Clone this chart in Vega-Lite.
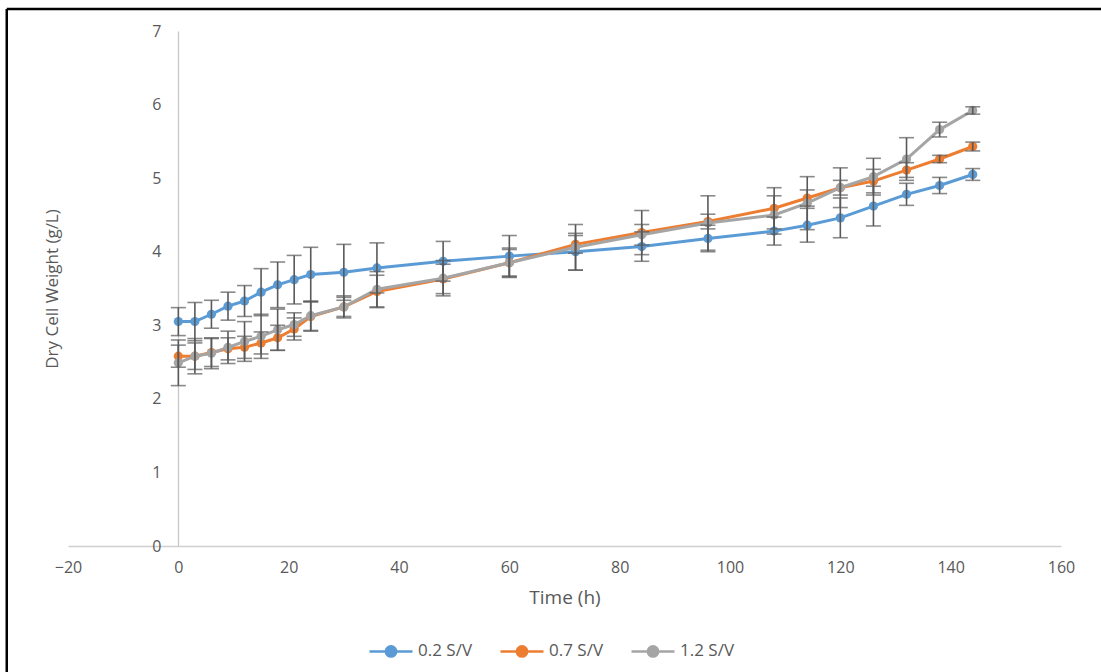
{
  "$schema": "https://vega.github.io/schema/vega-lite/v6.json",
  "width": 993,
  "height": 515,
  "autosize": "none",
  "padding": {"left": 68, "top": 31, "right": 40, "bottom": 126},
  "background": "white",
  "config": {
    "view": {"stroke": null},
    "font": "Open Sans",
    "axis": {"labelColor": "#595959", "titleColor": "#595959", "labelFont": "Open Sans", "titleFont": "Open Sans", "labelFontSize": 16, "titleFontSize": 17, "titleFontWeight": "normal", "grid": false, "ticks": false, "domainColor": "#BFBFBF", "domainWidth": 1.3, "labelFlush": false},
    "legend": {"labelColor": "#595959", "labelFont": "Open Sans", "labelFontSize": 17}
  },
  "datasets": {
    "dcw": [
      {"t": 0, "s": "0.2 S/V", "v": 3.05, "e": 0.19},
      {"t": 3, "s": "0.2 S/V", "v": 3.05, "e": 0.26},
      {"t": 6, "s": "0.2 S/V", "v": 3.15, "e": 0.19},
      {"t": 9, "s": "0.2 S/V", "v": 3.26, "e": 0.19},
      {"t": 12, "s": "0.2 S/V", "v": 3.33, "e": 0.21},
      {"t": 15, "s": "0.2 S/V", "v": 3.45, "e": 0.32},
      {"t": 18, "s": "0.2 S/V", "v": 3.55, "e": 0.31},
      {"t": 21, "s": "0.2 S/V", "v": 3.62, "e": 0.33},
      {"t": 24, "s": "0.2 S/V", "v": 3.69, "e": 0.37},
      {"t": 30, "s": "0.2 S/V", "v": 3.72, "e": 0.38},
      {"t": 36, "s": "0.2 S/V", "v": 3.78, "e": 0.34},
      {"t": 48, "s": "0.2 S/V", "v": 3.87, "e": 0.27},
      {"t": 60, "s": "0.2 S/V", "v": 3.94, "e": 0.28},
      {"t": 72, "s": "0.2 S/V", "v": 4.0, "e": 0.25},
      {"t": 84, "s": "0.2 S/V", "v": 4.07, "e": 0.2},
      {"t": 96, "s": "0.2 S/V", "v": 4.18, "e": 0.18},
      {"t": 108, "s": "0.2 S/V", "v": 4.28, "e": 0.19},
      {"t": 114, "s": "0.2 S/V", "v": 4.36, "e": 0.23},
      {"t": 120, "s": "0.2 S/V", "v": 4.46, "e": 0.27},
      {"t": 126, "s": "0.2 S/V", "v": 4.62, "e": 0.27},
      {"t": 132, "s": "0.2 S/V", "v": 4.78, "e": 0.15},
      {"t": 138, "s": "0.2 S/V", "v": 4.9, "e": 0.11},
      {"t": 144, "s": "0.2 S/V", "v": 5.05, "e": 0.08},
      {"t": 0, "s": "0.7 S/V", "v": 2.58, "e": 0.15},
      {"t": 3, "s": "0.7 S/V", "v": 2.58, "e": 0.18},
      {"t": 6, "s": "0.7 S/V", "v": 2.63, "e": 0.19},
      {"t": 9, "s": "0.7 S/V", "v": 2.68, "e": 0.15},
      {"t": 12, "s": "0.7 S/V", "v": 2.7, "e": 0.15},
      {"t": 15, "s": "0.7 S/V", "v": 2.76, "e": 0.15},
      {"t": 18, "s": "0.7 S/V", "v": 2.83, "e": 0.17},
      {"t": 21, "s": "0.7 S/V", "v": 2.95, "e": 0.15},
      {"t": 24, "s": "0.7 S/V", "v": 3.12, "e": 0.2},
      {"t": 30, "s": "0.7 S/V", "v": 3.25, "e": 0.13},
      {"t": 36, "s": "0.7 S/V", "v": 3.46, "e": 0.22},
      {"t": 48, "s": "0.7 S/V", "v": 3.63, "e": 0.2},
      {"t": 60, "s": "0.7 S/V", "v": 3.85, "e": 0.2},
      {"t": 72, "s": "0.7 S/V", "v": 4.1, "e": 0.12},
      {"t": 84, "s": "0.7 S/V", "v": 4.26, "e": 0.3},
      {"t": 96, "s": "0.7 S/V", "v": 4.41, "e": 0.1},
      {"t": 108, "s": "0.7 S/V", "v": 4.59, "e": 0.28},
      {"t": 114, "s": "0.7 S/V", "v": 4.73, "e": 0.11},
      {"t": 120, "s": "0.7 S/V", "v": 4.87, "e": 0.1},
      {"t": 126, "s": "0.7 S/V", "v": 4.96, "e": 0.16},
      {"t": 132, "s": "0.7 S/V", "v": 5.11, "e": 0.1},
      {"t": 138, "s": "0.7 S/V", "v": 5.26, "e": 0.05},
      {"t": 144, "s": "0.7 S/V", "v": 5.43, "e": 0.06},
      {"t": 0, "s": "1.2 S/V", "v": 2.49, "e": 0.31},
      {"t": 3, "s": "1.2 S/V", "v": 2.58, "e": 0.24},
      {"t": 6, "s": "1.2 S/V", "v": 2.62, "e": 0.21},
      {"t": 9, "s": "1.2 S/V", "v": 2.7, "e": 0.22},
      {"t": 12, "s": "1.2 S/V", "v": 2.78, "e": 0.27},
      {"t": 15, "s": "1.2 S/V", "v": 2.85, "e": 0.3},
      {"t": 18, "s": "1.2 S/V", "v": 2.94, "e": 0.28},
      {"t": 21, "s": "1.2 S/V", "v": 3.01, "e": 0.16},
      {"t": 24, "s": "1.2 S/V", "v": 3.13, "e": 0.2},
      {"t": 30, "s": "1.2 S/V", "v": 3.25, "e": 0.15},
      {"t": 36, "s": "1.2 S/V", "v": 3.49, "e": 0.24},
      {"t": 48, "s": "1.2 S/V", "v": 3.64, "e": 0.24},
      {"t": 60, "s": "1.2 S/V", "v": 3.85, "e": 0.18},
      {"t": 72, "s": "1.2 S/V", "v": 4.06, "e": 0.31},
      {"t": 84, "s": "1.2 S/V", "v": 4.23, "e": 0.14},
      {"t": 96, "s": "1.2 S/V", "v": 4.39, "e": 0.37},
      {"t": 108, "s": "1.2 S/V", "v": 4.5, "e": 0.26},
      {"t": 114, "s": "1.2 S/V", "v": 4.66, "e": 0.36},
      {"t": 120, "s": "1.2 S/V", "v": 4.87, "e": 0.27},
      {"t": 126, "s": "1.2 S/V", "v": 5.02, "e": 0.25},
      {"t": 132, "s": "1.2 S/V", "v": 5.26, "e": 0.29},
      {"t": 138, "s": "1.2 S/V", "v": 5.66, "e": 0.1},
      {"t": 144, "s": "1.2 S/V", "v": 5.92, "e": 0.05}
    ],
    "frame": [{"x0": -31.1, "x1": 175, "y0": 7.3, "y1": -3}]
  },
  "data": {"name": "dcw"},
  "encoding": {
    "x": {"field": "t", "type": "quantitative", "scale": {"domain": [-20, 160], "nice": false, "zero": false},
      "axis": {"title": "Time (h)", "titleFontSize": 19, "values": [-20, 0, 20, 40, 60, 80, 100, 120, 140, 160], "labelPadding": 13, "titlePadding": 13, "domainColor": "#D0D0D0"}},
    "y": {"field": "v", "type": "quantitative", "scale": {"domain": [0, 7], "nice": false},
      "axis": {"title": "Dry Cell Weight (g/L)", "values": [0, 1, 2, 3, 4, 5, 6, 7], "offset": -110, "labelPadding": 17, "titlePadding": 90, "domainColor": "#C8C8C8"}}
  },
  "layer": [
    {
      "mark": {"type": "line", "strokeWidth": 3},
      "encoding": {
        "color": {"field": "s", "type": "nominal", "scale": {"domain": ["0.2 S/V", "0.7 S/V", "1.2 S/V"], "range": ["#5B9BD5", "#ED7D31", "#A5A5A5"]},
          "legend": {"title": null, "orient": "none", "legendX": 300, "legendY": 597, "direction": "horizontal", "symbolType": "M-1,0L1,0M0.24,0A0.24,0.24,0,1,1,-0.24,0A0.24,0.24,0,1,1,0.24,0Z", "symbolSize": 1849, "symbolStrokeWidth": 2.5, "labelOffset": 4, "columnPadding": 22,
            "encode": {"symbols": {"update": {"fill": {"scale": "color", "field": "value"}, "stroke": {"scale": "color", "field": "value"}, "opacity": {"value": 1}}}}}
        }
      }
    },
    {
      "mark": {"type": "point", "shape": "circle", "filled": true, "size": 85, "opacity": 1},
      "encoding": {"color": {"field": "s", "type": "nominal"}}
    },
    {
      "mark": {"type": "errorbar", "color": "#595959", "thickness": 1.6, "ticks": {"size": 15, "color": "#595959", "thickness": 1.6}},
      "encoding": {
        "y": {"field": "v", "type": "quantitative"},
        "yError": {"field": "e"},
        "detail": {"field": "s"}
      }
    },
    {
      "data": {"name": "frame"},
      "mark": {"type": "rule", "color": "black", "strokeWidth": 2.5, "clip": false},
      "encoding": {
        "x": {"field": "x0", "type": "quantitative"},
        "y": {"field": "y0", "type": "quantitative"},
        "y2": {"field": "y1"}
      }
    },
    {
      "data": {"name": "frame"},
      "mark": {"type": "rule", "color": "black", "strokeWidth": 2.5, "clip": false},
      "encoding": {
        "x": {"field": "x0", "type": "quantitative"},
        "x2": {"field": "x1"},
        "y": {"field": "y0", "type": "quantitative"}
      }
    }
  ]
}
